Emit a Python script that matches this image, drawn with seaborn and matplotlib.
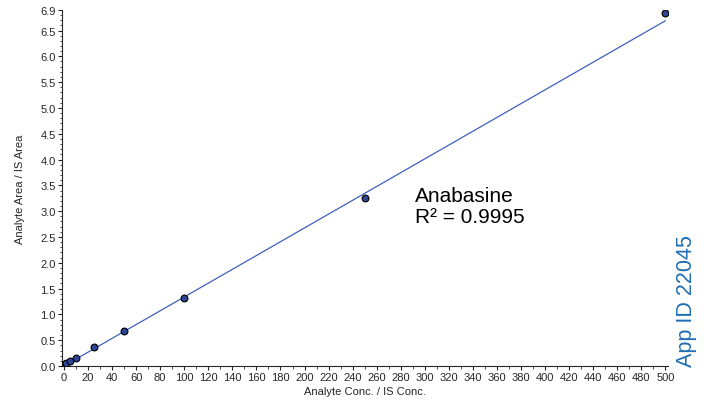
import matplotlib
matplotlib.use("Agg")
import matplotlib.pyplot as plt
import seaborn as sns
import numpy as np
import pandas as pd
from matplotlib.ticker import MultipleLocator, FixedLocator

# --- DATI ---
conc = [1, 2, 5, 10, 25, 50, 100, 250, 500]
area_ratio = [0.03, 0.05, 0.09, 0.16, 0.36, 0.67, 1.31, 3.26, 6.83]
fit_x = [0, 500]
fit_y = [0.0, 6.69]
compound = "Anabasine"
r2_text = "R² = 0.9995"
app_id = "App ID 22045"
y_ticks = [0.0, 0.5, 1.0, 1.5, 2.0, 2.5, 3.0, 3.5, 4.0, 4.5, 5.0, 5.5, 6.0, 6.5, 6.9]

cal = pd.DataFrame({"conc": conc, "ratio": area_ratio})

sns.set_style("ticks")
plt.rcParams["font.family"] = ["Liberation Sans", "DejaVu Sans"]

fig = plt.figure(figsize=(7.06, 4.02), dpi=100)
ax = fig.add_axes([0.088, 0.087, 0.858, 0.886])

sns.lineplot(x=fit_x, y=fit_y, ax=ax, color="#3f5fbf", linewidth=0.9)
sns.scatterplot(data=cal, x="conc", y="ratio", ax=ax, color="#2e4596",
                edgecolor="black", linewidth=0.8, s=24, zorder=3)

ax.set_xlim(-1.5, 502)
ax.set_ylim(0, 6.9)
ax.xaxis.set_major_locator(MultipleLocator(20))
ax.xaxis.set_minor_locator(MultipleLocator(10))
ax.yaxis.set_major_locator(FixedLocator(y_ticks))
ax.yaxis.set_minor_locator(MultipleLocator(0.1))
ax.set_yticklabels([f"{v:.1f}" for v in y_ticks])
ax.tick_params(axis="both", which="major", labelsize=8, length=3, width=0.8, pad=1.5)
ax.tick_params(axis="both", which="minor", length=1.8, width=0.6)

ax.set_xlabel("Analyte Conc. / IS Conc.", fontsize=8, labelpad=3)
ax.set_ylabel("Analyte Area / IS Area", fontsize=8, labelpad=11)
sns.despine(ax=ax)

ax.text(292, 2.72, compound + "\n" + r2_text, fontsize=15, color="black",
        linespacing=1.1, va="bottom", ha="left")
fig.text(0.973, 0.087, app_id, rotation=90, fontsize=15.5, color="#1f6db3",
         ha="center", va="bottom")

plt.savefig("out.png", dpi=100)
